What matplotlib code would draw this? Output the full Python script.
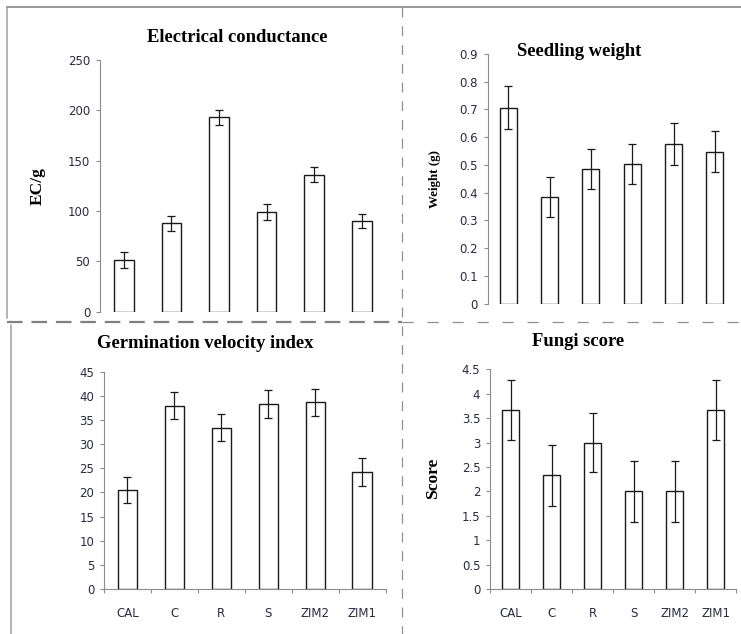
import matplotlib
matplotlib.use('Agg')
import matplotlib.pyplot as plt
import numpy as np

# data
categories = ['CAL', 'C', 'R', 'S', 'ZIM2', 'ZIM1']
ec = [51, 88, 193, 99, 136, 90]
ec_err = [8, 7.5, 7.6, 7.6, 7.4, 7]
weight = [0.707, 0.384, 0.485, 0.503, 0.576, 0.548]
weight_err = [0.077, 0.073, 0.072, 0.073, 0.076, 0.073]
gvi = [20.5, 38.0, 33.4, 38.4, 38.7, 24.2]
gvi_err = [2.7, 2.7, 2.8, 2.9, 2.8, 2.9]
fungi = [3.67, 2.33, 3.0, 2.0, 2.0, 3.67]
fungi_err = [0.61, 0.62, 0.61, 0.62, 0.62, 0.61]

W, H = 741, 634
fig = plt.figure(figsize=(W / 100, H / 100), dpi=100)

SERIF = ['Liberation Serif', 'DejaVu Serif']
TICK_COL = '#2a2a40'
AX_COL = '#8c8c8c'


def box(l, t, r, b):
    return fig.add_axes([l / W, 1 - b / H, (r - l) / W, (b - t) / H])


def panel(ax, vals, errs, ymax, step, title, title_xy, show_x):
    x = np.arange(len(vals)) + 0.5
    ax.bar(x, vals, width=0.41, color='white', edgecolor='#1a1a1a', linewidth=1.0, zorder=2)
    ax.errorbar(x, vals, yerr=errs, fmt='none', ecolor='#1a1a1a', elinewidth=0.9,
                capsize=3, capthick=0.9, zorder=3)
    ax.set_xlim(0, len(vals))
    ax.set_ylim(0, ymax)
    ticks = np.arange(0, ymax + step / 2, step)
    ax.set_yticks(ticks)
    ax.set_yticklabels(['{:g}'.format(round(t, 2)) for t in ticks])
    for s in ['top', 'right']:
        ax.spines[s].set_visible(False)
    ax.spines['left'].set_color(AX_COL)
    ax.spines['bottom'].set_color(AX_COL)
    ax.tick_params(axis='y', direction='out', length=3, width=0.8, color=AX_COL,
                   labelsize=8.5, labelcolor=TICK_COL, pad=4)
    if show_x:
        ax.set_xticks(np.arange(0, len(vals) + 1))
        ax.set_xticklabels([])
        ax.set_xticks(x, minor=True)
        ax.set_xticklabels(categories, minor=True)
        ax.tick_params(axis='x', which='major', direction='out', length=3, width=0.8, color=AX_COL)
        ax.tick_params(axis='x', which='minor', length=0, labelsize=8.5,
                       labelcolor=TICK_COL, pad=13)
    else:
        ax.spines['bottom'].set_visible(False)
        ax.set_xticks([])
    ax.set_facecolor('none')
    fig.text(title_xy[0] / W, 1 - title_xy[1] / H, title, family=SERIF,
             fontsize=13.4, fontweight='bold', ha='center', va='center')


ax1 = box(100, 60, 385.6, 311.7)
panel(ax1, ec, ec_err, 250, 50, 'Electrical conductance', (237, 38), False)
ax2 = box(487.7, 54, 735.5, 303.7)
panel(ax2, weight, weight_err, 0.9, 0.1, 'Seedling weight', (579, 52), False)
ax3 = box(104, 371.7, 385.5, 589)
panel(ax3, gvi, gvi_err, 45, 5, 'Germination velocity index', (205, 343), True)
ax4 = box(490, 369.3, 736.3, 589)
panel(ax4, fungi, fungi_err, 4.5, 0.5, 'Fungi score', (578, 342), True)

# y labels
fig.text(38 / W, 1 - 186 / H, 'EC/g', family=SERIF, fontsize=12.5, fontweight='bold',
         rotation=90, ha='center', va='center')
fig.text(435 / W, 1 - 179 / H, 'Weight (g)', family=SERIF, fontsize=9.3, fontweight='bold',
         rotation=90, ha='center', va='center')
fig.text(433 / W, 1 - 478 / H, 'Score', family=SERIF, fontsize=12.6, fontweight='bold',
         rotation=90, ha='center', va='center')

# frame and dashed separators
bg = fig.add_axes([0, 0, 1, 1], zorder=-1)
bg.set_xlim(0, W)
bg.set_ylim(H, 0)
bg.axis('off')
bg.plot([7, W], [6.8, 6.8], color='#909090', lw=1.3)
bg.plot([7.3, 7.3], [6.8, 318], color='#a0a0a0', lw=1.1)
bg.plot([10.5, 10.5], [325, H], color='#a0a0a0', lw=1.1)
bg.plot([7, 402], [321.5, 321.5], color='#808080', lw=1.6, linestyle=(0, (7, 4)))
bg.plot([402, W], [321.5, 321.5], color='#909090', lw=0.9, linestyle=(0, (9, 11)))
bg.plot([402.3, 402.3], [6.8, H], color='#909090', lw=0.9, linestyle=(0, (8, 7)))

fig.savefig('out.png', dpi=100)
